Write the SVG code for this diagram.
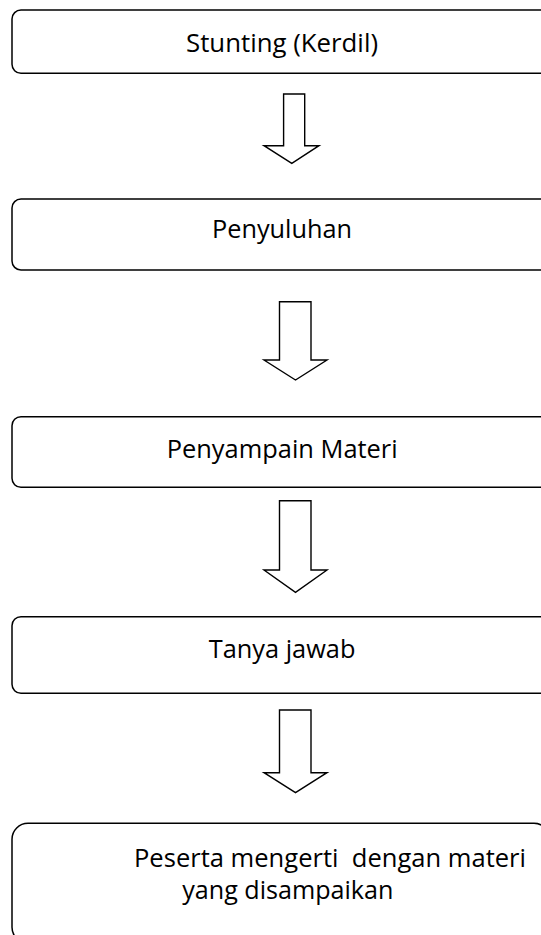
<svg xmlns="http://www.w3.org/2000/svg" width="541" height="935" viewBox="0 0 541 935">
<style>
.box{fill:#fff;stroke:#000;stroke-width:1.5}
.arr{fill:#fff;stroke:#000;stroke-width:1.4;stroke-linejoin:miter}
.t{font-family:"Open Sans","Noto Sans",sans-serif;font-size:25px;fill:#000}
</style>
<rect width="541" height="935" fill="#fff"/>
<g id="connectors">
<polygon class="arr" points="283.6,94 304.7,94 304.7,145.7 319,145.7 291.8,163.3 264,145.7 283.6,145.7"/>
<polygon class="arr" points="279.5,301.7 311,301.7 311,360 327,360 295.5,380 264,360 279.5,360"/>
<polygon class="arr" points="279.5,500.7 311,500.7 311,570 327,570 295.5,592.3 264,570 279.5,570"/>
<polygon class="arr" points="279.5,710 311,710 311,772.7 327,772.7 295.5,792.7 264,772.7 279.5,772.7"/>
</g>
<g id="node1">
<rect class="box" x="12" y="10" width="548" height="63.3" rx="9"/>
<text class="t" x="186" y="51.7" textLength="192" lengthAdjust="spacingAndGlyphs">Stunting (Kerdil)</text>
</g>
<g id="node2">
<rect class="box" x="12" y="199" width="548" height="71" rx="9"/>
<text class="t" x="212" y="238" textLength="140" lengthAdjust="spacingAndGlyphs">Penyuluhan</text>
</g>
<g id="node3">
<rect class="box" x="12" y="416.7" width="548" height="70.6" rx="9"/>
<text class="t" x="166.7" y="458.3" textLength="231" lengthAdjust="spacingAndGlyphs">Penyampain Materi</text>
</g>
<g id="node4">
<rect class="box" x="12" y="616.7" width="548" height="76.6" rx="9"/>
<text class="t" x="208.8" y="658" textLength="146.6" lengthAdjust="spacingAndGlyphs">Tanya jawab</text>
</g>
<g id="node5">
<rect class="box" x="12" y="823.3" width="538" height="120" rx="16"/>
<text class="t" x="134" y="866.7" textLength="392" lengthAdjust="spacingAndGlyphs" xml:space="preserve">Peserta mengerti  dengan materi</text>
<text class="t" x="182.2" y="899" textLength="211.2" lengthAdjust="spacingAndGlyphs">yang disampaikan</text>
</g>
</svg>
